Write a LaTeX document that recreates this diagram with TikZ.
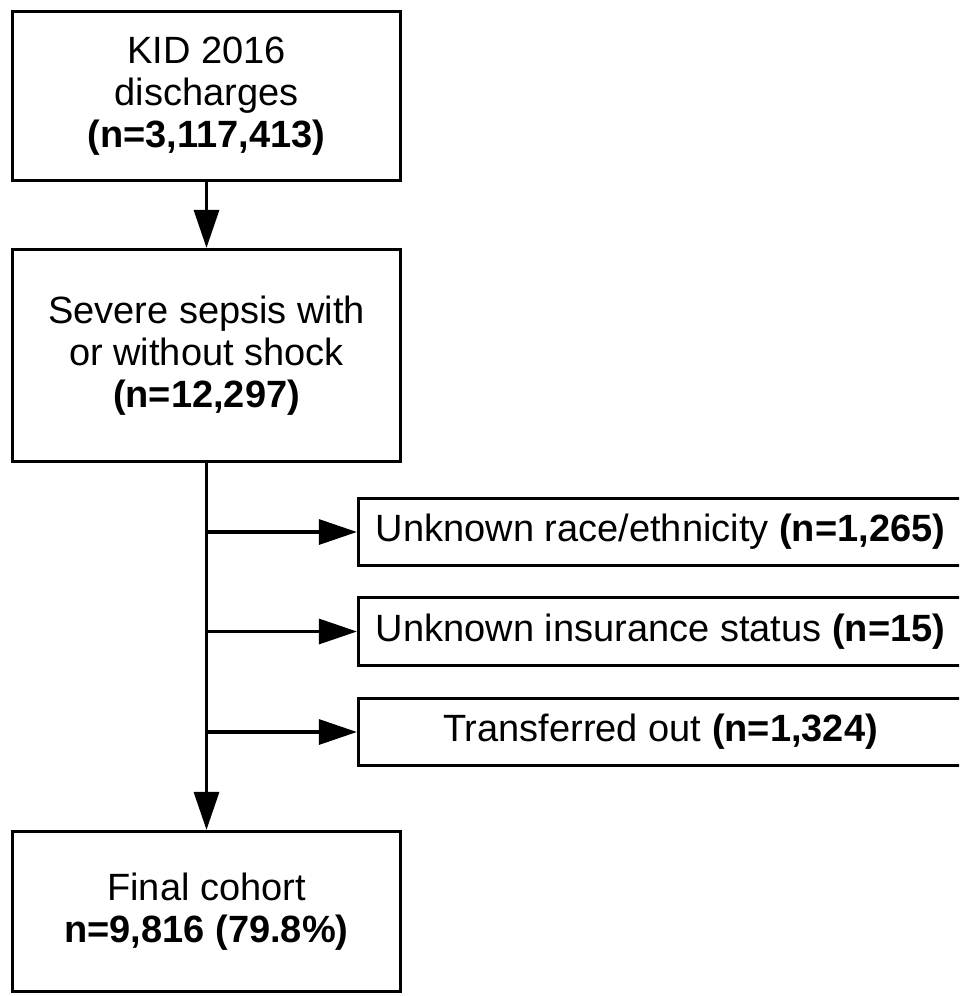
\documentclass[tikz,border=0pt]{standalone}
\usepackage{fontspec}
\setmainfont{Liberation Sans}
\usetikzlibrary{arrows.meta}
\begin{document}
\begin{tikzpicture}[x=1pt,y=-1pt,
  box/.style={draw=black, line width=3.2pt, fill=white, align=center, inner sep=0pt,
    font=\fontsize{38}{42}\selectfont},
  conn/.style={line width=3.2pt, -{Triangle[length=38pt,width=25pt]}}]
\clip (0,0) rectangle (959,996);
\node[box, minimum width=388pt, minimum height=169pt] (kid) at (206.5,96)
  {KID 2016\\discharges\\\textbf{(n=3,117,413)}};
\node[box, minimum width=388pt, minimum height=212pt] (sep) at (206.5,355.5)
  {Severe sepsis with\\or without shock\\\textbf{(n=12,297)}};
\node[box, minimum width=388pt, minimum height=160pt] (fin) at (206.5,911.5)
  {Final cohort\\\textbf{n=9,816 (79.8\%)}};
\node[box, minimum width=604pt, minimum height=67pt] (ex1) at (660.5,532)
  {Unknown race/ethnicity \textbf{(n=1,265)}};
\node[box, minimum width=604pt, minimum height=68pt] (ex2) at (660.5,631.5)
  {Unknown insurance status \textbf{(n=15)}};
\node[box, minimum width=604pt, minimum height=67pt] (ex3) at (660.5,732)
  {Transferred out \textbf{(n=1,324)}};
\draw[conn] (kid.south) -- (sep.north);
\draw[conn] (sep.south) -- (fin.north);
\coordinate (j1) at (sep.south |- ex1.west);
\coordinate (j2) at (sep.south |- ex2.west);
\coordinate (j3) at (sep.south |- ex3.west);
\draw[conn] (j1) -- (ex1.west);
\draw[conn] (j2) -- (ex2.west);
\draw[conn] (j3) -- (ex3.west);
\end{tikzpicture}
\end{document}
